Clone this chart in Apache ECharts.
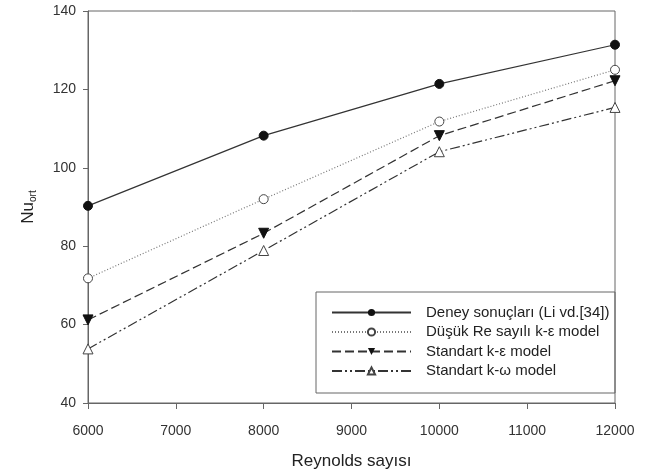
<!DOCTYPE html>
<html><head><meta charset="utf-8">
<script src="https://cdn.jsdelivr.net/npm/echarts@6/dist/echarts.min.js"></script>
<style>html,body{margin:0;padding:0;background:#fff}#c{width:662px;height:475px}</style>
</head><body><div id="c"></div>
<script>
const reynolds = [6000, 8000, 10000, 12000];
const deney = [90.3, 108.2, 121.4, 131.4];
const dusukRe = [71.8, 92.0, 111.8, 125.0];
const standartKE = [61.2, 83.3, 108.2, 122.2];
const standartKW = [53.8, 78.9, 104.1, 115.4];
const seriesNames = ['Deney sonuçları (Li vd.[34])', 'Düşük Re sayılı k-ε model', 'Standart k-ε model', 'Standart k-ω model'];
const xTicks = [6000, 7000, 8000, 9000, 10000, 11000, 12000];
const yTicks = [40, 60, 80, 100, 120, 140];

const pair = arr => reynolds.map((x, i) => [x, arr[i]]);
const lineCol = '#333';
const font = 'Liberation Sans, Arial, sans-serif';

const chart = echarts.init(document.getElementById('c'));
chart.setOption({
  animation: false,
  grid: { left: 88, right: 47, top: 11, bottom: 71, show: true, borderColor: '#666', borderWidth: 1 },
  xAxis: {
    type: 'value', min: xTicks[0], max: xTicks[xTicks.length-1], interval: 1000,
    name: 'Reynolds sayısı', nameLocation: 'middle', nameGap: 50,
    nameTextStyle: { fontFamily: font, fontSize: 17, color: '#222' },
    axisLine: { lineStyle: { color: '#666' } },
    axisTick: { show: true, length: 6, lineStyle: { color: '#666' } },
    axisLabel: { fontFamily: font, fontSize: 14, color: '#333', margin: 21, formatter: v => String(v) },
    splitLine: { show: false }
  },
  yAxis: {
    type: 'value', min: yTicks[0], max: yTicks[yTicks.length-1], interval: 20,
    name: '{a|Nu}{b|ort}', nameLocation: 'middle', nameGap: 50, nameRotate: 90,
    nameTextStyle: { fontFamily: font, color: '#222',
      rich: { a: { fontSize: 17, fontFamily: font, color: '#222' }, b: { fontSize: 10, fontFamily: font, color: '#222', padding: [9, 0, 0, 0] } } },
    axisLine: { show: true, lineStyle: { color: '#666' } },
    axisTick: { show: true, length: 5, lineStyle: { color: '#666' } },
    axisLabel: { fontFamily: font, fontSize: 14, color: '#333', margin: 12 },
    splitLine: { show: false }
  },
  legend: {
    orient: 'vertical', left: 326, top: 300, itemWidth: 79, itemHeight: 9, itemGap: 4.5,
    textStyle: { fontFamily: font, fontSize: 15, lineHeight: 15, color: '#222', padding: [0, 0, 0, 10] },
    data: seriesNames
  },
  graphic: [{ type: 'rect', shape: { x: 316, y: 292, width: 299, height: 101 }, style: { fill: 'none', stroke: '#666', lineWidth: 1 }, z: 0 }],
  series: [
    { name: seriesNames[0], type: 'line', data: pair(deney), symbol: 'circle', symbolSize: 9,
      itemStyle: { color: '#111', borderColor: '#111' }, lineStyle: { color: lineCol, width: 1.2, type: 'solid' } },
    { name: seriesNames[1], type: 'line', data: pair(dusukRe), symbol: 'circle', symbolSize: 9,
      itemStyle: { color: '#fff', borderColor: '#444', borderWidth: 1 }, lineStyle: { color: '#777', width: 1.2, type: [1, 2] } },
    { name: seriesNames[2], type: 'line', data: pair(standartKE), symbol: 'triangle', symbolRotate: 180, symbolSize: 10,
      itemStyle: { color: '#111', borderColor: '#111' }, lineStyle: { color: lineCol, width: 1.2, type: [9, 4] } },
    { name: seriesNames[3], type: 'line', data: pair(standartKW), symbol: 'triangle', symbolSize: 10,
      itemStyle: { color: '#fff', borderColor: '#444', borderWidth: 1 }, lineStyle: { color: lineCol, width: 1.2, type: [10, 3, 2, 3, 2, 3] } }
  ]
});
</script></body></html>
